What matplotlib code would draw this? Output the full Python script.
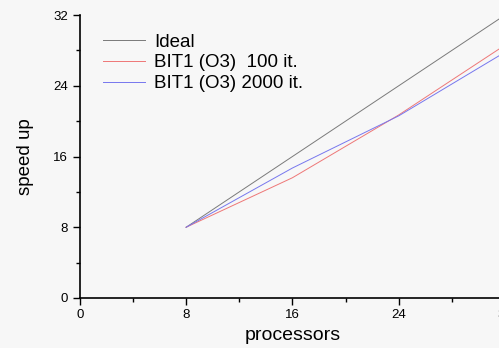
import matplotlib
matplotlib.use("Agg")
import matplotlib.pyplot as plt
from matplotlib.ticker import MultipleLocator

plt.rcParams['font.family'] = ['Liberation Sans', 'DejaVu Sans']

processors = [8, 16, 24, 32]
ideal = [8, 16, 24, 32]
bit1_100 = [8, 13.6, 20.7, 28.6]
bit1_2000 = [8, 14.7, 20.6, 27.8]

fig = plt.figure(figsize=(4.99, 3.48), dpi=100, facecolor='#f7f7f7')
ax = fig.add_axes([0.160, 0.1437, 0.852, 0.813])
ax.set_facecolor('#f7f7f7')

ax.plot(processors, ideal, color='#7a7a7a', lw=0.7, label='Ideal')
ax.plot(processors, bit1_100, color='#ee7777', lw=0.7, label='BIT1 (O3)  100 it.')
ax.plot(processors, bit1_2000, color='#7777ee', lw=0.7, label='BIT1 (O3) 2000 it.')

ax.set_xlim(0, 32)
ax.set_ylim(0, 32)
ax.xaxis.set_major_locator(MultipleLocator(8))
ax.xaxis.set_minor_locator(MultipleLocator(4))
ax.yaxis.set_major_locator(MultipleLocator(8))
ax.yaxis.set_minor_locator(MultipleLocator(4))
for s in ('top', 'right'):
    ax.spines[s].set_visible(False)
for s in ('left', 'bottom'):
    ax.spines[s].set_linewidth(1.2)
ax.tick_params(which='major', length=5, width=1.0, labelsize=9.5, direction='out')
ax.tick_params(which='minor', length=3, width=1.0, direction='out')
ax.tick_params(axis='x', pad=3)

ax.set_xlabel('processors', fontsize=14, labelpad=4)
ax.set_ylabel('speed up', fontsize=13.5, labelpad=14)

leg = ax.legend(loc='upper left', bbox_to_anchor=(0.055, 0.935), frameon=False,
                fontsize=13.5, handlelength=2.25, handletextpad=0.45,
                labelspacing=0.2, borderaxespad=0, borderpad=0)

fig.savefig('out.png', dpi=100, facecolor=fig.get_facecolor())
